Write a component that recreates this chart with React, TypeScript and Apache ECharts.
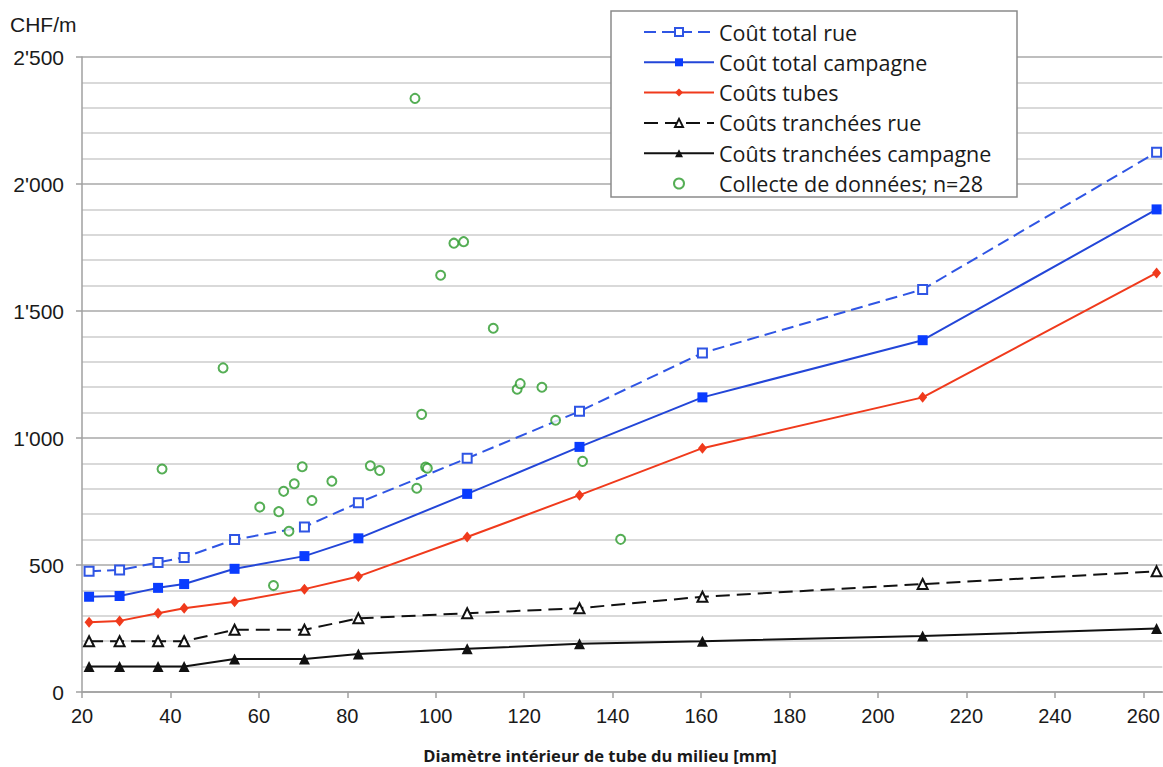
import React, { useEffect, useRef } from "react";
import * as echarts from "echarts";

// Inner diameters of the standard pipes [mm]
const diameters = [21.6, 28.5, 37.2, 43.1, 54.5, 70.3, 82.5, 107.1, 132.5, 160.3, 210.1, 263.0];
const totalRue = [475, 480, 510, 530, 600, 650, 745, 920, 1105, 1335, 1585, 2125];
const totalCampagne = [375, 378, 410, 425, 485, 535, 605, 780, 965, 1160, 1385, 1900];
const tubes = [275, 280, 310, 330, 355, 405, 455, 610, 775, 960, 1160, 1650];
const tranchRue = [200, 200, 200, 200, 245, 245, 290, 310, 330, 375, 425, 475];
const tranchCampagne = [100, 100, 100, 100, 130, 130, 150, 170, 190, 200, 220, 250];

// Survey data (n=28)
const surveyX = [38.1, 51.9, 60.2, 64.5, 65.6, 68.0, 69.8, 66.8, 63.3, 72.0, 76.5, 85.2, 87.3, 95.3, 95.7, 96.8, 97.7, 98.1, 101.1, 104.1, 106.3, 113.0, 118.4, 119.1, 124.0, 127.1, 133.2, 141.8];
const surveyY = [878, 1276, 728, 710, 790, 820, 887, 633, 419, 754, 830, 891, 872, 2337, 802, 1093, 886, 881, 1641, 1767, 1773, 1432, 1192, 1214, 1200, 1070, 908, 601];

const names = [
  "Coût total rue",
  "Coût total campagne",
  "Coûts tubes",
  "Coûts tranchées rue",
  "Coûts tranchées campagne",
  "Collecte de données; n=28",
];

const pair = (ys: number[]) => diameters.map((d, i) => [d, ys[i]]);

export default function App() {
  const ref = useRef<HTMLDivElement>(null);
  useEffect(() => {
    if (!ref.current) return;
    const chart = echarts.init(ref.current, null, { renderer: "svg" });
    const axisColor = "#a0a0a0";
    const sans = "'Liberation Sans', Arial, sans-serif";
    chart.setOption({
      animation: false,
      backgroundColor: "#ffffff",
      textStyle: { fontFamily: sans },
      grid: { left: 82, right: 0, top: 57, bottom: 75 },
      xAxis: {
        type: "value",
        min: 20,
        max: 264.3,
        interval: 20,
        axisLine: { show: true, lineStyle: { color: axisColor, width: 1.5 } },
        axisTick: { show: true, length: 6, lineStyle: { color: axisColor, width: 1.5 } },
        axisLabel: {
          fontSize: 20,
          fontFamily: sans,
          color: "#1a1a1a",
          margin: 14,
          showMaxLabel: false,
          formatter: (v: number) => (Math.abs(v % 20) < 1e-6 ? String(v) : ""),
        },
        splitLine: { show: false },
      },
      yAxis: {
        type: "value",
        min: 0,
        max: 2500,
        interval: 500,
        axisLine: { show: true, lineStyle: { color: axisColor, width: 1.5 } },
        axisTick: { show: true, length: 6, lineStyle: { color: axisColor, width: 1.5 } },
        axisLabel: {
          fontSize: 21,
          fontFamily: sans,
          color: "#1a1a1a",
          margin: 18,
          formatter: (v: number) => String(v).replace(/\B(?=(\d{3})+(?!\d))/g, "'"),
        },
        splitLine: { show: true, lineStyle: { color: "#a8a8a8", width: 1.5 } },
        minorTick: { show: false, splitNumber: 5 },
        minorSplitLine: { show: true, lineStyle: { color: "#cccccc", width: 1.6 } },
      },
      legend: {
        orient: "vertical",
        left: 643,
        top: 21,
        padding: 0,
        itemWidth: 70,
        itemHeight: 10,
        itemGap: 8.3,
        z: 10,
        textStyle: { fontSize: 21.5, fontFamily: "'Open Sans'", color: "#1a1a1a" },
        data: names,
      },
      graphic: [
        {
          type: "rect",
          z: 5,
          shape: { x: 611, y: 11, width: 406, height: 186 },
          style: { fill: "#ffffff", stroke: "#8a8a8a", lineWidth: 1.5 },
        },
        {
          type: "text",
          left: 10,
          top: 14,
          style: { text: "CHF/m", fontSize: 21, fill: "#1a1a1a", fontFamily: sans },
        },
        {
          type: "text",
          x: 600,
          y: 755,
          style: {
            text: "Diamètre intérieur de tube du milieu [mm]",
            fontSize: 16.6,
            fontWeight: "bold",
            fontFamily: "'Open Sans'",
            fill: "#1a1a1a",
            align: "center",
            verticalAlign: "middle",
          },
        },
      ],
      series: [
        {
          name: names[0],
          type: "line",
          data: pair(totalRue),
          symbol: "emptyRect",
          symbolSize: 9,
          lineStyle: { color: "#2f55e4", width: 2, type: [12, 6] },
          itemStyle: { color: "#2f55e4", borderWidth: 1.5 },
          z: 3,
        },
        {
          name: names[1],
          type: "line",
          data: pair(totalCampagne),
          symbol: "rect",
          symbolSize: 10,
          lineStyle: { color: "#2346d8", width: 2 },
          itemStyle: { color: "#0a3cff" },
          z: 3,
        },
        {
          name: names[2],
          type: "line",
          data: pair(tubes),
          symbol: "diamond",
          symbolSize: [9, 11],
          lineStyle: { color: "#f03a1c", width: 2 },
          itemStyle: { color: "#f03a1c" },
          z: 3,
        },
        {
          name: names[3],
          type: "line",
          data: pair(tranchRue),
          symbol: "emptyTriangle",
          symbolSize: 10,
          lineStyle: { color: "#111111", width: 2, type: [14, 7] },
          itemStyle: { color: "#111111", borderWidth: 1.5 },
          z: 3,
        },
        {
          name: names[4],
          type: "line",
          data: pair(tranchCampagne),
          symbol: "triangle",
          symbolSize: 11,
          lineStyle: { color: "#111111", width: 2 },
          itemStyle: { color: "#111111" },
          z: 3,
        },
        {
          name: names[5],
          type: "scatter",
          data: surveyX.map((x, i) => [x, surveyY[i]]),
          symbol: "emptyCircle",
          symbolSize: 9,
          itemStyle: { color: "#2a9a2a", borderColor: "#2a9a2a", borderWidth: 1.6 },
          z: 3,
        },
      ],
    });
    return () => chart.dispose();
  }, []);
  return (
    <div
      ref={ref}
      style={{ position: "absolute", left: 0, top: 0, width: 1163, height: 767 }}
    />
  );
}
